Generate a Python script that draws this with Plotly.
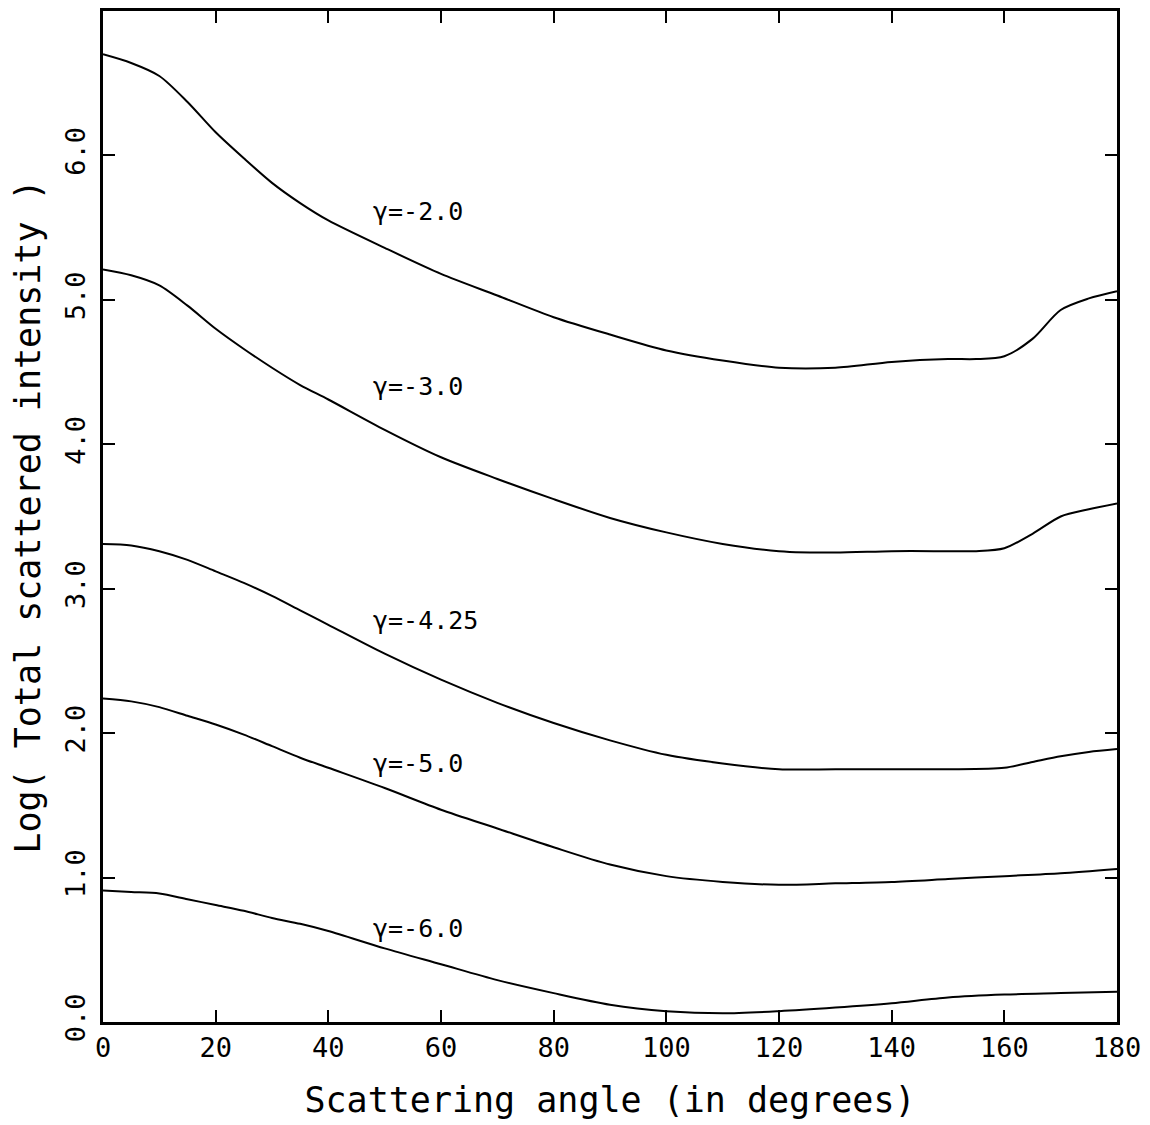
import plotly.graph_objects as go

# Scattering angle (degrees) sample points for each curve
angle_g2 = [0, 5, 10, 15, 20, 25, 30, 35, 40, 50, 60, 70, 80, 90, 100, 110, 120, 130, 140, 150, 155, 160, 165, 170, 175, 180]
logI_g2 = [6.70, 6.64, 6.55, 6.37, 6.16, 5.98, 5.81, 5.67, 5.55, 5.36, 5.18, 5.03, 4.88, 4.76, 4.65, 4.58, 4.53, 4.53, 4.57, 4.59, 4.59, 4.61, 4.73, 4.93, 5.01, 5.06]

angle_g3 = [0, 5, 10, 15, 20, 25, 30, 35, 40, 50, 60, 70, 80, 90, 100, 110, 120, 130, 140, 150, 155, 160, 165, 170, 175, 180]
logI_g3 = [5.21, 5.17, 5.10, 4.96, 4.80, 4.66, 4.53, 4.41, 4.31, 4.10, 3.91, 3.76, 3.62, 3.49, 3.39, 3.31, 3.26, 3.25, 3.26, 3.26, 3.26, 3.28, 3.38, 3.50, 3.55, 3.59]

angle_g425 = [0, 5, 10, 15, 20, 25, 30, 35, 40, 50, 60, 70, 80, 90, 100, 110, 120, 130, 140, 150, 160, 165, 170, 175, 180]
logI_g425 = [3.31, 3.30, 3.26, 3.20, 3.12, 3.04, 2.95, 2.85, 2.75, 2.55, 2.37, 2.21, 2.07, 1.95, 1.85, 1.79, 1.75, 1.75, 1.75, 1.75, 1.76, 1.80, 1.84, 1.87, 1.89]

angle_g5 = [0, 5, 10, 15, 20, 25, 30, 35, 40, 50, 60, 70, 80, 90, 100, 110, 120, 130, 140, 150, 160, 170, 180]
logI_g5 = [2.24, 2.22, 2.18, 2.12, 2.06, 1.99, 1.91, 1.83, 1.76, 1.62, 1.47, 1.34, 1.21, 1.09, 1.01, 0.97, 0.95, 0.96, 0.97, 0.99, 1.01, 1.03, 1.06]

angle_g6 = [0, 5, 10, 15, 20, 25, 30, 35, 40, 50, 60, 70, 80, 90, 100, 110, 120, 130, 140, 150, 160, 170, 180]
logI_g6 = [0.91, 0.90, 0.89, 0.85, 0.81, 0.77, 0.72, 0.68, 0.63, 0.51, 0.40, 0.29, 0.20, 0.12, 0.075, 0.06, 0.075, 0.10, 0.13, 0.17, 0.19, 0.20, 0.21]

curve_labels = ["γ=-2.0", "γ=-3.0", "γ=-4.25", "γ=-5.0", "γ=-6.0"]
label_x = [47.6, 47.6, 47.6, 47.6, 47.6]
label_y = [5.61, 4.40, 2.78, 1.79, 0.65]

x_ticks = [0, 20, 40, 60, 80, 100, 120, 140, 160, 180]
y_ticks = [0.0, 1.0, 2.0, 3.0, 4.0, 5.0, 6.0]
y_ticklabels = ["0.0", "1.0", "2.0", "3.0", "4.0", "5.0", "6.0"]

FONT = "DejaVu Sans Mono"

fig = go.Figure()
series = [(angle_g2, logI_g2), (angle_g3, logI_g3), (angle_g425, logI_g425),
          (angle_g5, logI_g5), (angle_g6, logI_g6)]
for (xs, ys), name in zip(series, curve_labels):
    fig.add_trace(go.Scatter(x=xs, y=ys, mode="lines", name=name,
                             line=dict(color="black", width=2, shape="spline", smoothing=0.8),
                             showlegend=False))

for txt, lx, ly in zip(curve_labels, label_x, label_y):
    fig.add_annotation(x=lx, y=ly, text=txt, showarrow=False, xanchor="left", yanchor="middle",
                       font=dict(family=FONT, size=25, color="black"))

fig.update_xaxes(range=[0, 180], tickvals=x_ticks, ticktext=[str(v) for v in x_ticks],
                 ticks="inside", ticklen=12, tickwidth=2, tickcolor="black",
                 showline=True, linewidth=3, linecolor="black", mirror="ticks",
                 showgrid=False, zeroline=False,
                 tickfont=dict(family=FONT, size=27, color="black"),
                 title=dict(text="Scattering angle (in degrees)", standoff=26,
                            font=dict(family=FONT, size=35, color="black")))
fig.update_yaxes(range=[0, 7.0], tickvals=y_ticks, ticktext=y_ticklabels,
                 ticks="inside", ticklen=12, tickwidth=2, tickcolor="black",
                 showline=True, linewidth=3, linecolor="black", mirror="ticks",
                 showgrid=False, zeroline=False, tickangle=-90, ticklabelstandoff=4,
                 tickfont=dict(family=FONT, size=27, color="black"),
                 title=dict(text="Log( Total scattered intensity )", standoff=14,
                            font=dict(family=FONT, size=35, color="black")))

fig.update_layout(width=1150, height=1125, plot_bgcolor="white", paper_bgcolor="white",
                  margin=dict(l=95, r=41, t=0, b=111))

fig.write_html("out.html")
